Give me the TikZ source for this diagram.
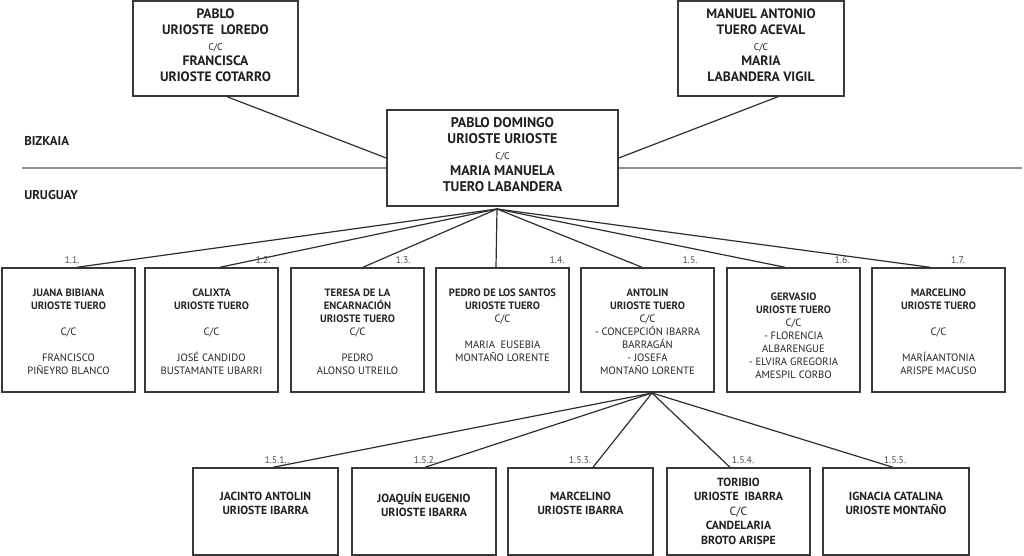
\documentclass[tikz,border=0pt]{standalone}
\usepackage{fontspec}
\setmainfont{PT Sans}
\usetikzlibrary{fit,calc}
\newcommand\cc{{\fontsize{7.2}{8}\selectfont\mdseries C/C}}
\begin{document}
\begin{tikzpicture}[x=0.75pt,y=-0.75pt,
  box/.style={draw=black!78, line width=1.1pt, fill=white, inner sep=0pt},
  conn/.style={draw=black!82, line width=0.9pt},
  sep/.style={draw=black!45, line width=0.8pt},
  tA/.style={align=center, inner sep=0pt, text=black!88, anchor=north, font=\fontsize{10.2}{11.8}\selectfont},
  tM/.style={align=center, inner sep=0pt, text=black!88, anchor=north, font=\fontsize{10.5}{12}\selectfont},
  tB/.style={align=center, inner sep=0pt, text=black!85, anchor=north, font=\fontsize{8}{9.75}\selectfont},
  tC/.style={align=center, inner sep=0pt, text=black!88, anchor=north, font=\fontsize{8.8}{10.8}\selectfont},
  num/.style={inner sep=0pt, text=black!70, font=\fontsize{7.3}{8}\selectfont},
  region/.style={inner sep=0pt, anchor=west, text=black!88, font=\bfseries\fontsize{9.6}{11}\selectfont}
]
\useasboundingbox (0,0) rectangle (1024,556);

% separator
\coordinate (hl) at (22,168);
\coordinate (hr) at (1022,168);
\draw[sep] (hl) -- (hr);
\node[region] (biz) at (24,141) {BIZKAIA};
\node[region] (uru) at (24,195) {URUGUAY};

% top boxes
\node[box, fit={(133,1) (298,96)}] (pu) {};
\node[tA] (put) at ($(pu.north)+(0,8.5)$) {\textbf{PABLO}\\\textbf{URIOSTE\ \ LOREDO}\\\cc\\\textbf{FRANCISCA}\\\textbf{URIOSTE COTARRO}};
\node[box, fit={(678,1) (844,96)}] (mt) {};
\node[tA] (mtt) at ($(mt.north)+(0,8.5)$) {\textbf{MANUEL ANTONIO}\\\textbf{TUERO ACEVAL}\\\cc\\\textbf{MARIA}\\\textbf{LABANDERA VIGIL}};

% center box
\node[box, fit={(387,110) (618,206)}] (pd) {};
\node[tM] (pdt) at ($(pd.north)+(0,8)$) {\textbf{PABLO DOMINGO}\\\textbf{URIOSTE URIOSTE}\\\cc\\\textbf{MARIA MANUELA}\\\textbf{TUERO LABANDERA}};

\draw[conn] ($(pu.south)+(11.5,0)$) -- (pd.west);
\draw[conn] ($(mt.south)+(17,0)$) -- (pd.east);

% row 1
\node[box, fit={(2,268) (135,392)}] (c1) {};
\node[box, fit={(145,268) (278,392)}] (c2) {};
\node[box, fit={(291,268) (424,392)}] (c3) {};
\node[box, fit={(436,268) (569,392)}] (c4) {};
\node[box, fit={(581,268) (714,392)}] (c5) {};
\node[box, fit={(727,268) (860,392)}] (c6) {};
\node[box, fit={(872,268) (1005,392)}] (c7) {};

\node[tB] (c1t) at ($(c1.north)+(0,21)$) {\textbf{JUANA BIBIANA}\\\textbf{URIOSTE TUERO}\\[9.75pt]C/C\\[9.75pt]FRANCISCO\\PIÑEYRO BLANCO};
\node[tB] (c2t) at ($(c2.north)+(0,21)$) {\textbf{CALIXTA}\\\textbf{URIOSTE TUERO}\\[9.75pt]C/C\\[9.75pt]JOSÉ CANDIDO\\BUSTAMANTE UBARRI};
\node[tB] (c3t) at ($(c3.north)+(0,21)$) {\textbf{TERESA DE LA}\\\textbf{ENCARNACIÓN}\\\textbf{URIOSTE TUERO}\\C/C\\[9.75pt]PEDRO\\ALONSO UTREILO};
\node[tB] (c4t) at ($(c4.north)+(0,21)$) {\textbf{PEDRO DE LOS SANTOS}\\\textbf{URIOSTE TUERO}\\C/C\\[9.75pt]MARIA\ \ EUSEBIA\\MONTAÑO LORENTE};
\node[tB] (c5t) at ($(c5.north)+(0,21)$) {\textbf{ANTOLIN}\\\textbf{URIOSTE TUERO}\\C/C\\- CONCEPCIÓN IBARRA\\BARRAGÁN\\- JOSEFA\\MONTAÑO LORENTE};
\node[tB] (c6t) at ($(c6.north)+(0,25)$) {\textbf{GERVASIO}\\\textbf{URIOSTE TUERO}\\C/C\\- FLORENCIA\\ALBARENGUE\\- ELVIRA GREGORIA\\AMESPIL CORBO};
\node[tB] (c7t) at ($(c7.north)+(0,21)$) {\textbf{MARCELINO}\\\textbf{URIOSTE TUERO}\\[9.75pt]C/C\\[9.75pt]MARÍAANTONIA\\ARISPE MACUSO};

\coordinate (h1) at (497,209);
\draw[conn] (h1) -- ($(c1.north)+(8.5,0)$);
\draw[conn] (h1) -- ($(c2.north)+(8.5,0)$);
\draw[conn] (h1) -- ($(c3.north)+(5.5,0)$);
\draw[conn] (h1) -- ($(c4.north)+(-6.5,0)$);
\draw[conn] (h1) -- ($(c5.north)+(-5.5,0)$);
\draw[conn] (h1) -- ($(c6.north)+(-8.5,0)$);
\draw[conn] (h1) -- ($(c7.north)+(-8.5,0)$);

\node[num] (n1) at (72,260) {1.1.};
\node[num] (n2) at (263,260) {1.2.};
\node[num] (n3) at (403,260) {1.3.};
\node[num] (n4) at (557,260) {1.4.};
\node[num] (n5) at (690,260) {1.5.};
\node[num] (n6) at (842,260) {1.6.};
\node[num] (n7) at (958,260) {1.7.};

% row 2
\node[box, fit={(193,468) (338,555)}] (d1) {};
\node[box, fit={(352,468) (496,555)}] (d2) {};
\node[box, fit={(508,468) (653,555)}] (d3) {};
\node[box, fit={(667,468) (810,555)}] (d4) {};
\node[box, fit={(823,468) (969,555)}] (d5) {};

\node[tC] (d1t) at ($(d1.north)+(0,24.5)$) {\textbf{JACINTO ANTOLIN}\\\textbf{URIOSTE IBARRA}};
\node[tC] (d2t) at ($(d2.north)+(0,24.5)$) {\textbf{JOAQUÍN EUGENIO}\\\textbf{URIOSTE IBARRA}};
\node[tC] (d3t) at ($(d3.north)+(0,24.5)$) {\textbf{MARCELINO}\\\textbf{URIOSTE IBARRA}};
\node[tC] (d4t) at ($(d4.north)+(0,10.5)$) {\textbf{TORIBIO}\\\textbf{URIOSTE\ \ IBARRA}\\{\mdseries C/C}\\\textbf{CANDELARIA}\\\textbf{BROTO ARISPE}};
\node[tC] (d5t) at ($(d5.north)+(0,24.5)$) {\textbf{IGNACIA CATALINA}\\\textbf{URIOSTE MONTAÑO}};

\coordinate (h2) at (652,393);
\draw[conn] (h2) -- ($(d1.north)+(7.5,0)$);
\draw[conn] (h2) -- ($(d2.north)+(1,0)$);
\draw[conn] (h2) -- ($(d3.north)+(12.5,0)$);
\draw[conn] (h2) -- ($(d4.north)+(-8.5,0)$);
\draw[conn] (h2) -- ($(d5.north)+(-3,0)$);

\node[num] (m1) at (277,460) {1.5.1..};
\node[num] (m2) at (425,460) {1.5.2.};
\node[num] (m3) at (580,460) {1.5.3.};
\node[num] (m4) at (743,460) {1.5.4.};
\node[num] (m5) at (895,460) {1.5.5.};
\end{tikzpicture}
\end{document}
